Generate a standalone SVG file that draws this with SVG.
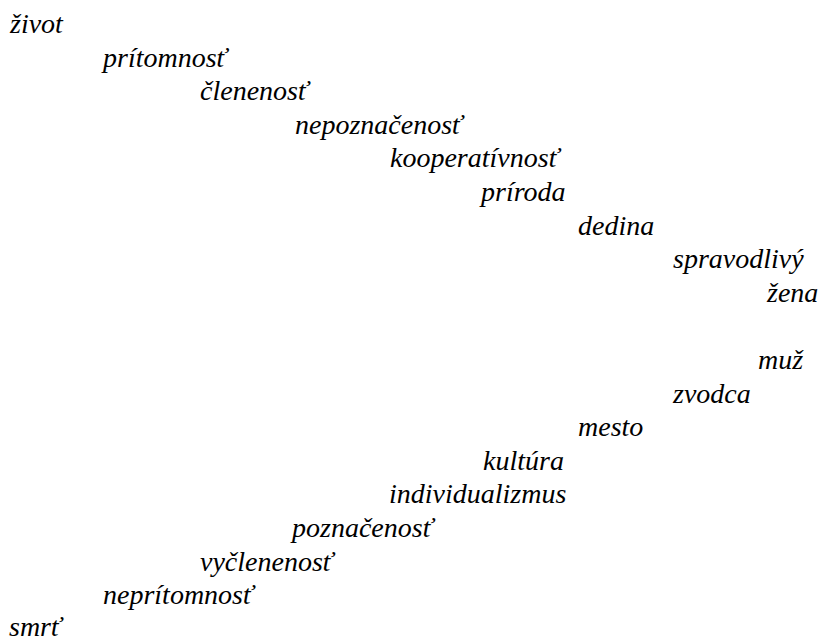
<svg xmlns="http://www.w3.org/2000/svg" width="823" height="640" viewBox="0 0 823 640">
<style>
.t { font-family: 'Liberation Serif', 'Times New Roman', serif; font-style: italic; font-size: 28px; fill: #000; }
</style>
<rect width="823" height="640" fill="#fff"/>
<g id="n1"><text class="t" x="10" y="33">život</text></g>
<g id="n2"><text class="t" x="103" y="66.6">prítomnosť</text></g>
<g id="n3"><text class="t" x="200" y="100.2">členenosť</text></g>
<g id="n4"><text class="t" x="295" y="133.8">nepoznačenosť</text></g>
<g id="n5"><text class="t" x="390" y="167.4">kooperatívnosť</text></g>
<g id="n6"><text class="t" x="481" y="201">príroda</text></g>
<g id="n7"><text class="t" x="578" y="234.6">dedina</text></g>
<g id="n8"><text class="t" x="673" y="268.2">spravodlivý</text></g>
<g id="n9"><text class="t" x="767" y="301.8">žena</text></g>
<g id="n10"><text class="t" x="758" y="369">muž</text></g>
<g id="n11"><text class="t" x="673" y="402.6">zvodca</text></g>
<g id="n12"><text class="t" x="578" y="436.2">mesto</text></g>
<g id="n13"><text class="t" x="483" y="469.8">kultúra</text></g>
<g id="n14"><text class="t" x="389" y="503.4">individualizmus</text></g>
<g id="n15"><text class="t" x="292" y="537">poznačenosť</text></g>
<g id="n16"><text class="t" x="200" y="570.6">vyčlenenosť</text></g>
<g id="n17"><text class="t" x="103" y="604.2">neprítomnosť</text></g>
<g id="n18"><text class="t" x="9" y="636">smrť</text></g>
<g id="connectors"></g>
</svg>
